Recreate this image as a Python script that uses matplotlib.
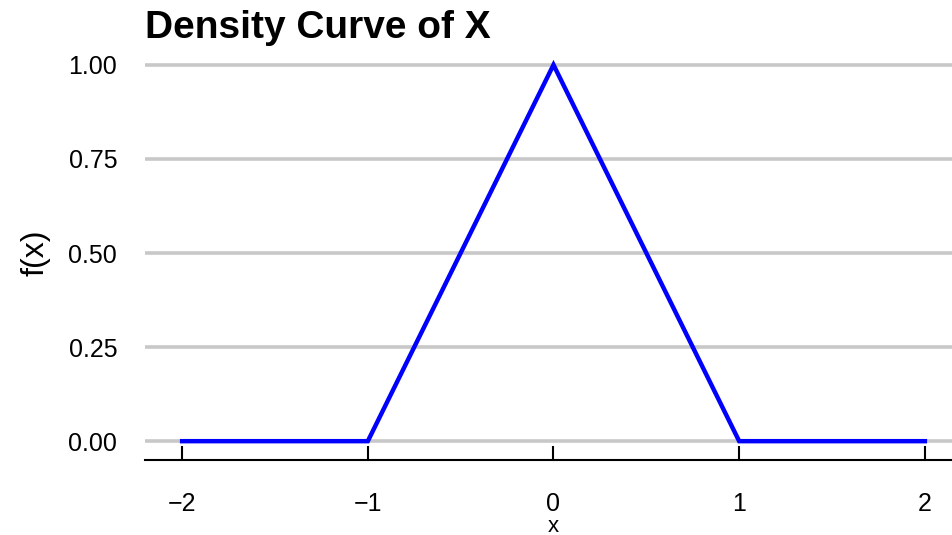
import matplotlib
matplotlib.use("Agg")
import matplotlib.pyplot as plt

# density curve points
x_vals = [-2, -1, 0, 1, 2]
fx_vals = [0, 0, 1, 0, 0]
x_ticks = [-2, -1, 0, 1, 2]
x_tick_labels = ["\u22122", "\u22121", "0", "1", "2"]
y_ticks = [0.0, 0.25, 0.5, 0.75, 1.0]
y_tick_labels = ["0.00", "0.25", "0.50", "0.75", "1.00"]

plt.rcParams["font.family"] = ["Liberation Sans", "DejaVu Sans"]

fig = plt.figure(figsize=(9.52, 5.35), dpi=100)
ax = fig.add_axes([0.1523, 0.1402, 0.8582, 0.7738])

for yv in y_ticks:
    ax.axhline(yv, color="#c8c8c8", lw=2.6, zorder=1)

ax.plot(x_vals, fx_vals, color="#0000ff", lw=3.2, zorder=3, solid_joinstyle="miter")

ax.set_xlim(-2.2, 2.2)
ax.set_ylim(-0.05, 1.05)

ax.set_xticks(x_ticks)
ax.set_xticklabels(x_tick_labels)
ax.set_yticks(y_ticks)
ax.set_yticklabels(y_tick_labels)

for side in ["top", "right", "left"]:
    ax.spines[side].set_visible(False)
ax.spines["bottom"].set_linewidth(1.5)
ax.spines["bottom"].set_color("black")

ax.tick_params(axis="x", direction="in", length=10, width=1.5, labelsize=18, pad=23, colors="black")
ax.tick_params(axis="y", length=0, labelsize=18, pad=20)

ax.set_xlabel("x", fontsize=16, labelpad=0)
ax.set_ylabel("f(x)", fontsize=23, labelpad=13)
ax.set_title("Density Curve of X", fontsize=28, fontweight="bold", loc="left", pad=5)

fig.savefig("out.png", dpi=100)
